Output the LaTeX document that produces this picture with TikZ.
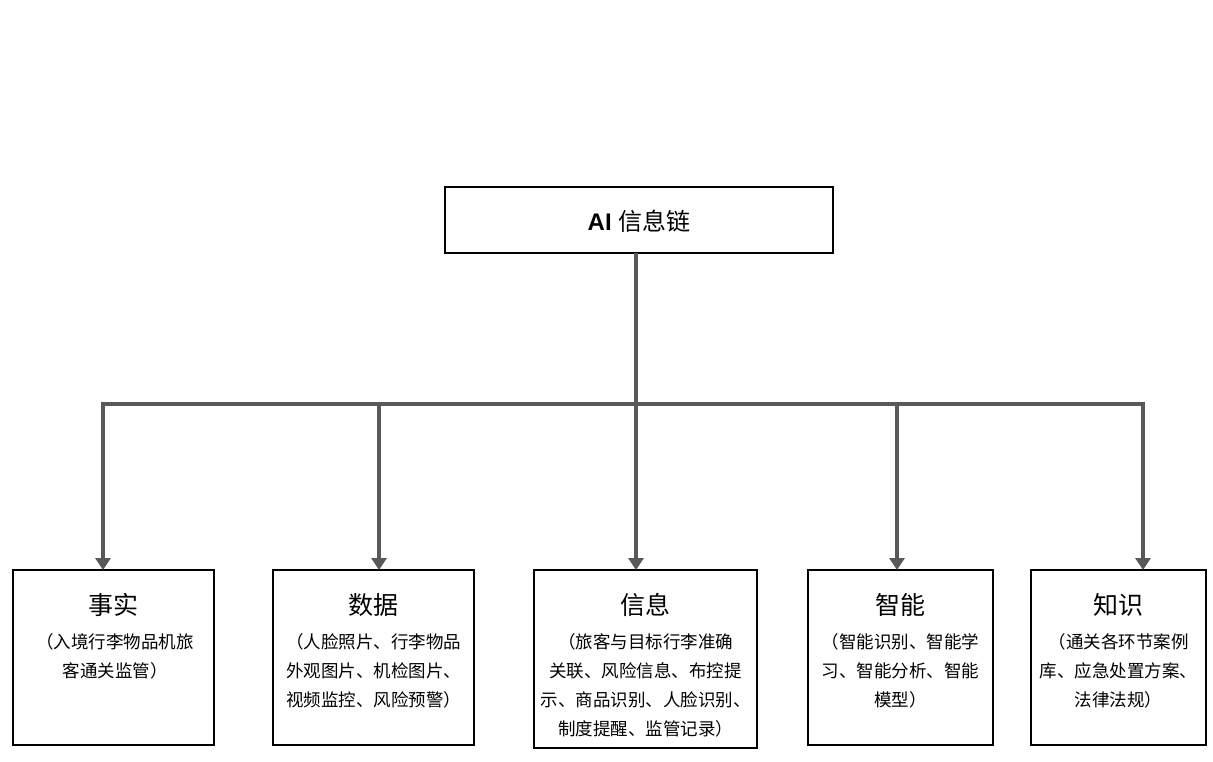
\documentclass[tikz,border=0pt]{standalone}
\usepackage{fontspec}
\setmainfont{Liberation Sans}
\newfontfamily\cjk{Noto Sans CJK SC}
\usetikzlibrary{arrows.meta}
\definecolor{conncol}{HTML}{595959}
\tikzset{
  box/.style={draw=black, line width=1.6pt, fill=white, inner sep=0pt},
  conn/.style={draw=conncol, line width=4.6pt, line join=miter,
    -{Triangle[width=15pt,length=12pt]}},
  ttl/.style={font=\cjk\fontsize{25}{28}\selectfont, inner sep=0pt},
  body/.style={font=\cjk\fontsize{17.5}{29}\selectfont, align=center, anchor=north, inner sep=0pt}
}
\begin{document}
\begin{tikzpicture}[x=1pt,y=-1pt]
\useasboundingbox (0,0) rectangle (1213,761);
% top box
\node[box, minimum width=388pt, minimum height=66pt] (top) at (639,220) {};
\node[inner sep=0pt] (toptxt) at (639,221) {\fontsize{24}{28}\selectfont{\bfseries AI} \cjk 信息链};
\coordinate (t) at (636,253);
\coordinate (bar) at (0,404);
% bottom boxes
\node[box, minimum width=201pt, minimum height=175pt] (b1) at (113.5,657.5) {};
\node[box, minimum width=201pt, minimum height=175pt] (b2) at (373.5,657.5) {};
\node[box, minimum width=223pt, minimum height=178pt] (b3) at (645.5,659) {};
\node[box, minimum width=185pt, minimum height=175pt] (b4) at (900.5,657.5) {};
\node[box, minimum width=175pt, minimum height=175pt] (b5) at (1118.5,657.5) {};
% drop points
\coordinate (d1) at (103,570);
\coordinate (d2) at (379,570);
\coordinate (d3) at (636,570);
\coordinate (d4) at (897,570);
\coordinate (d5) at (1143,570);
% connectors
\foreach \d in {d1,d2,d3,d4,d5}{
  \draw[conn] (t) -- (t |- bar) -| (\d);
}
% titles
\node[ttl] (t1) at (113.5,605) {事实};
\node[ttl] (t2) at (373.5,605) {数据};
\node[ttl] (t3) at (645.5,605) {信息};
\node[ttl] (t4) at (900.5,605) {智能};
\node[ttl] (t5) at (1118.5,605) {知识};
% bodies
\node[body] (x1) at (115,633) {（入境行李物品机旅\\客通关监管）};
\node[body] (x2) at (373.5,633) {（人脸照片、行李物品\\外观图片、机检图片、\\视频监控、风险预警）};
\node[body] (x3) at (645.5,633) {（旅客与目标行李准确\\关联、风险信息、布控提\\示、商品识别、人脸识别、\\制度提醒、监管记录）};
\node[body] (x4) at (900.5,633) {（智能识别、智能学\\习、智能分析、智能\\模型）};
\node[body] (x5) at (1118.5,633) {（通关各环节案例\\库、应急处置方案、\\法律法规）};
\end{tikzpicture}
\end{document}
